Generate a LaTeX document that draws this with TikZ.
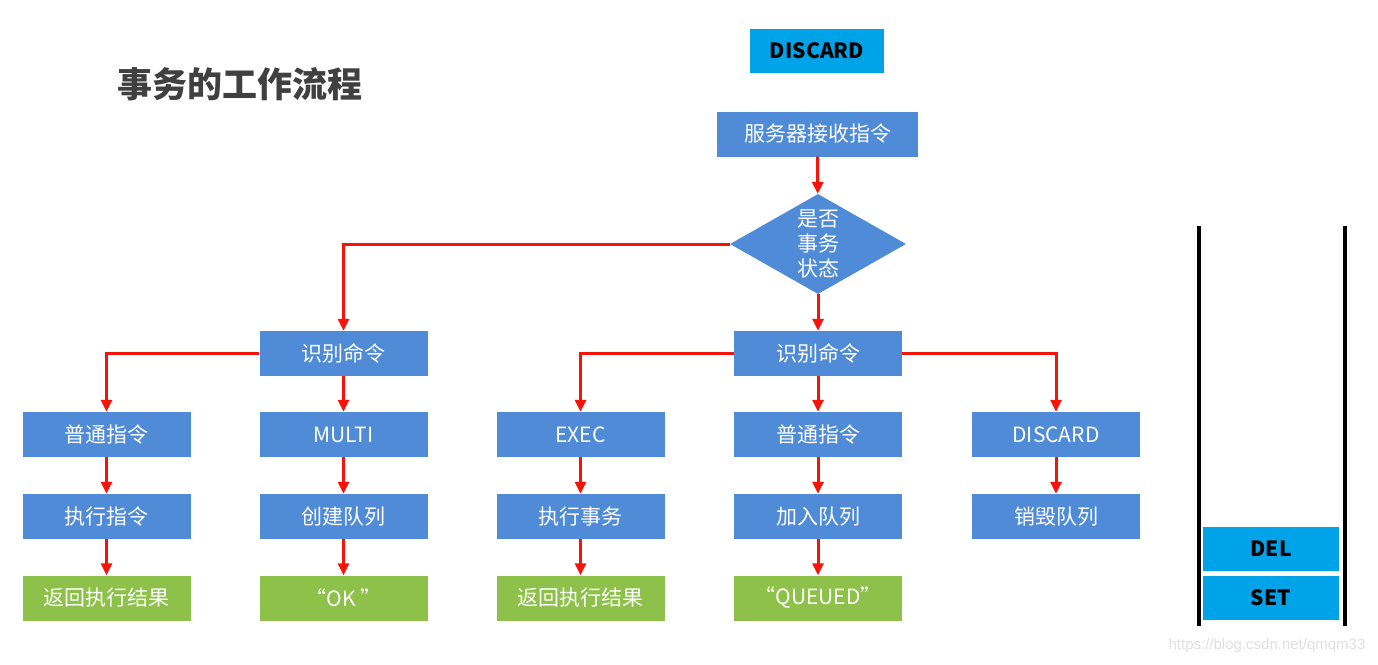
\documentclass[tikz,border=0pt]{standalone}
\usepackage{fontspec}
\newfontfamily\cjk{Noto Sans CJK SC}
\usetikzlibrary{shapes.geometric, arrows.meta}

\definecolor{boxblue}{RGB}{79,139,214}
\definecolor{resgreen}{RGB}{141,193,73}
\definecolor{topcyan}{RGB}{0,162,232}
\definecolor{flowred}{RGB}{245,20,10}
\definecolor{titlegray}{RGB}{64,64,64}

\begin{document}
\begin{tikzpicture}[x=1pt, y=-1pt,
    every node/.style={font=\cjk\fontsize{21}{25}\selectfont},
    box/.style={rectangle, fill=boxblue, text=white, minimum width=168pt, minimum height=45pt, inner sep=0pt},
    result/.style={box, fill=resgreen},
    stackbox/.style={rectangle, fill=topcyan, text=black, minimum width=136pt, minimum height=44pt, inner sep=0pt, font=\cjk\bfseries\fontsize{21}{24}\selectfont},
    decide/.style={diamond, fill=boxblue, text=white, aspect=1.76, inner sep=0pt, minimum width=176pt, minimum height=100pt, align=center},
    flow/.style={-{Triangle[length=12pt, width=11pt]}, line width=3pt, flowred}]
			\useasboundingbox (0,0) rectangle (1378,664);

			% Title
			\node[font=\cjk\bfseries\fontsize{35}{40}\selectfont, text=titlegray] (title) at (240,84) {事务的工作流程};

			% Nodes
			\node[stackbox, minimum width=134pt] (discardTop) at (817,51) {DISCARD};
			\node[box, minimum width=201pt] (recv) at (817.5,134) {服务器接收指令};
			\node[decide] (isTx) at (818,244) {是否\\事务\\状态};

			\node[box] (parseL) at (343.5,353.5) {识别命令};
			\node[box] (parseR) at (818,353.5) {识别命令};

			\node[box] (normalL) at (106.5,434.5) {普通指令};
			\node[box] (multi) at (343.5,434.5) {MULTI};
			\node[box] (exec) at (580.5,434.5) {EXEC};
			\node[box] (normalR) at (818,434.5) {普通指令};
			\node[box] (discard) at (1056,434.5) {DISCARD};

			\node[box] (runCmd) at (106.5,516.5) {执行指令};
			\node[box] (mkQueue) at (343.5,516.5) {创建队列};
			\node[box] (runTx) at (580.5,516.5) {执行事务};
			\node[box] (enqueue) at (818,516.5) {加入队列};
			\node[box] (dropQueue) at (1056,516.5) {销毁队列};

			\node[result] (resultL) at (106.5,598) {返回执行结果};
			\node[result] (ok) at (343.5,598) {“OK ”};
			\node[result] (resultR) at (580.5,598) {返回执行结果};
			\node[result] (queued) at (818,598) {“QUEUED”};

			% Queue
			\coordinate (qTopL) at (1199,226);
			\coordinate (qBotL) at (1199,626);
			\coordinate (qTopR) at (1345,226);
			\coordinate (qBotR) at (1345,626);
			\draw[line width=3.5pt] (qTopL) -- (qBotL);
			\draw[line width=3.5pt] (qTopR) -- (qBotR);
			\node[stackbox] (del) at (1271,549) {DEL};
			\node[stackbox] (set) at (1271,598) {SET};

			% Links
			\draw[flow] (recv) -- (isTx);
			\draw[flow] (isTx.west) -| (parseL.north);
			\draw[flow] (isTx) -- (parseR);
			\draw[flow] (parseL.west) -| (normalL.north);
			\draw[flow] (parseL) -- (multi);
			\draw[flow] (parseR.west) -| (exec.north);
			\draw[flow] (parseR) -- (normalR);
			\draw[flow] (parseR.east) -| (discard.north);
			\draw[flow] (normalL) -- (runCmd);
			\draw[flow] (multi) -- (mkQueue);
			\draw[flow] (exec) -- (runTx);
			\draw[flow] (normalR) -- (enqueue);
			\draw[flow] (discard) -- (dropQueue);
			\draw[flow] (runCmd) -- (resultL);
			\draw[flow] (mkQueue) -- (ok);
			\draw[flow] (runTx) -- (resultR);
			\draw[flow] (enqueue) -- (queued);

			% Watermark
			\node[font=\fontspec{Liberation Sans}\fontsize{15}{18}\selectfont, text=black!12] (mark) at (1267,646) {https://blog.csdn.net/qmqm33};
		\end{tikzpicture}
\end{document}
